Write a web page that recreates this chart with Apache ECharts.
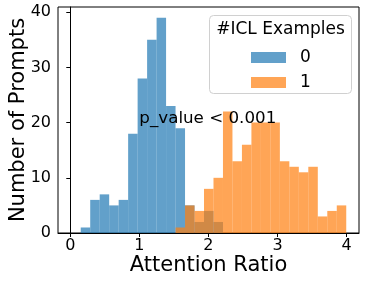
<!DOCTYPE html>
<html>
<head>
<meta charset="utf-8">
<script src="https://cdn.jsdelivr.net/npm/echarts@6/dist/echarts.min.js"></script>
<style>
  html, body { margin: 0; padding: 0; background: #fff; }
  #chart { width: 366px; height: 285px; }
</style>
</head>
<body>
<div id="chart"></div>
<script>
// ---- data ----
const seriesNames = ['0', '1'];
const binStart = 0.151;      // left edge of first histogram bin
const binWidth = 0.1373;     // histogram bin width
const counts0 = [1, 6, 7, 5, 6, 18, 28, 35, 39, 23, 19, 5, 2, 4, 2];
const firstBin0 = 0;
const counts1 = [1, 5, 4, 8, 10, 22, 13, 16, 20, 20, 20, 13, 12, 11, 12, 3, 4, 5];
const firstBin1 = 10;
const xTicks = [0, 1, 2, 3, 4];
const yTicks = [0, 10, 20, 30, 40];
const annotation = { x: 1, y: 20, text: 'p_value < 0.001' };
const legendTitle = '#ICL Examples';

function toBins(counts, first) {
  return counts.map((c, i) => [binStart + (first + i) * binWidth, binStart + (first + i + 1) * binWidth, c]);
}

const FONT = 'DejaVu Sans';
const chart = echarts.init(document.getElementById('chart'), null, { renderer: 'canvas' });

function histRender(params, api) {
  const p0 = api.coord([api.value(0), api.value(2)]);
  const p1 = api.coord([api.value(1), 0]);
  return {
    type: 'rect',
    shape: { x: p0[0], y: p0[1], width: p1[0] - p0[0], height: p1[1] - p0[1] },
    style: { fill: api.visual('color') }
  };
}

chart.setOption({
  animation: false,
  backgroundColor: '#fff',
  grid: { left: 58, right: 7, top: 7, bottom: 52, show: true, borderColor: '#000', borderWidth: 1, containLabel: false, outerBoundsMode: 'none' },
  xAxis: {
    type: 'value', min: -0.178, max: 4.18,
    axisLine: { show: true, lineStyle: { color: '#000', width: 1 } },
    axisTick: { show: true, customValues: xTicks, length: 4, lineStyle: { color: '#000' } },
    axisLabel: { customValues: xTicks, fontSize: 16, fontFamily: FONT, color: '#000', margin: 5 },
    splitLine: { show: false },
    name: 'Attention Ratio', nameLocation: 'middle', nameGap: 22, nameMoveOverlap: false,
    nameTextStyle: { fontSize: 21, fontFamily: FONT, color: '#000' }
  },
  yAxis: {
    type: 'value', min: 0, max: 40.95,
    axisLine: { show: true, lineStyle: { color: '#000', width: 1 } },
    axisTick: { show: true, customValues: yTicks, length: 4, lineStyle: { color: '#000' } },
    axisLabel: { customValues: yTicks, fontSize: 16, fontFamily: FONT, color: '#000', margin: 7 },
    splitLine: { show: false },
    name: 'Number of Prompts', nameLocation: 'middle', nameGap: 29, nameMoveOverlap: false,
    nameTextStyle: { fontSize: 21, fontFamily: FONT, color: '#000' }
  },
  legend: {
    data: seriesNames,
    orient: 'vertical',
    left: 251, top: 49,
    padding: 0,
    itemWidth: 35, itemHeight: 11, itemGap: 8,
    icon: 'rect',
    textStyle: { fontSize: 17, fontFamily: FONT, color: '#000', padding: [0, 0, 0, 9] },
    z: 20
  },
  graphic: [
    {
      type: 'rect', z: 15,
      shape: { x: 209.5, y: 15.5, width: 142, height: 78, r: 4 },
      style: { fill: 'rgba(255,255,255,0.8)', stroke: '#d0d0d0', lineWidth: 1 }
    },
    {
      type: 'text', z: 16,
      style: { x: 280.5, y: 30, text: legendTitle, font: '17px "DejaVu Sans"', fill: '#000', align: 'center', verticalAlign: 'middle' }
    }
  ],
  series: [
    {
      name: seriesNames[0], type: 'custom', renderItem: histRender,
      itemStyle: { color: 'rgba(31,119,180,0.7)' },
      encode: { x: [0, 1], y: 2 },
      data: toBins(counts0, firstBin0)
    },
    {
      name: seriesNames[1], type: 'custom', renderItem: histRender,
      itemStyle: { color: 'rgba(255,127,14,0.7)' },
      encode: { x: [0, 1], y: 2 },
      data: toBins(counts1, firstBin1)
    },
    {
      name: 'annotation', type: 'custom', z: 10,
      encode: { x: 0, y: 1 },
      data: [[annotation.x, annotation.y]],
      renderItem: function (params, api) {
        const p = api.coord([api.value(0), api.value(1)]);
        return {
          type: 'text',
          style: { x: p[0], y: p[1] - 4, text: annotation.text, font: '16.7px "DejaVu Sans"', fill: '#000', align: 'left', verticalAlign: 'middle' }
        };
      }
    }
  ]
});
</script>
</body>
</html>
